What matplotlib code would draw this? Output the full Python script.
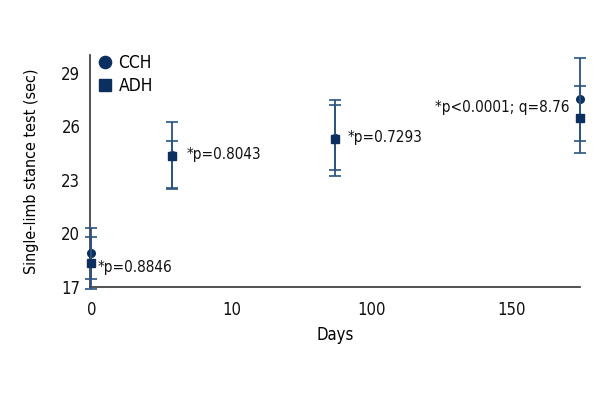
import matplotlib.pyplot as plt
import numpy as np

plt.rcParams['font.family'] = ['DejaVu Sans']
plt.rcParams['font.stretch'] = 'condensed'

# x positions on the (non-linear) day axis, tick positions and labels
x_pos = [0.0, 0.575, 1.74, 3.49]
tick_pos = [0, 1, 2, 3]
tick_labels = ['0', '10', '100', '150']

cch_mean = [18.92, 24.40, 25.35, 27.54]
cch_upper = [20.33, 26.27, 27.49, 29.81]
cch_lower = [17.45, 22.57, 23.22, 25.17]

adh_mean = [18.32, 24.36, 25.27, 26.46]
adh_upper = [19.78, 25.16, 27.20, 28.28]
adh_lower = [16.90, 22.47, 23.58, 24.52]

notes = ['*p=0.8846', '*p=0.8043', '*p=0.7293', '*p<0.0001; q=8.76']
note_x = [0.046, 0.68, 1.83, 2.45]
note_y = [18.12, 24.43, 25.38, 27.06]

mk_col = '#0b2f5e'
err_col = '#2b5480'

fig = plt.figure(figsize=(6, 4), dpi=100)
ax = fig.add_axes([0.15, 0.2825, 0.817, 0.58])

cch_err = [np.array(cch_mean) - np.array(cch_lower), np.array(cch_upper) - np.array(cch_mean)]
adh_err = [np.array(adh_mean) - np.array(adh_lower), np.array(adh_upper) - np.array(adh_mean)]

ax.errorbar(x_pos, cch_mean, yerr=cch_err, fmt='o', ms=5.5, color=mk_col, ecolor=err_col,
            elinewidth=1.3, capsize=4, capthick=1.2, clip_on=False, zorder=3, label='CCH')
ax.errorbar(x_pos, adh_mean, yerr=adh_err, fmt='s', ms=5.5, color=mk_col, ecolor=err_col,
            elinewidth=1.3, capsize=4, capthick=1.2, clip_on=False, zorder=4, label='ADH')

for t, xx, yy in zip(notes, note_x, note_y):
    ax.text(xx, yy, t, fontsize=11, va='center', ha='left', color='#111111')

ax.set_xlim(-0.01, 3.49)
ax.set_ylim(17, 30)
ax.set_yticks([17, 20, 23, 26, 29])
ax.set_xticks(tick_pos)
ax.set_xticklabels(tick_labels)
ax.tick_params(length=0, labelsize=12, colors='#111111')
ax.tick_params(axis='x', pad=10)
ax.tick_params(axis='y', pad=7)

for s in ['top', 'right']:
    ax.spines[s].set_visible(False)
for s in ['left', 'bottom']:
    ax.spines[s].set_color('#333333')
    ax.spines[s].set_linewidth(1.2)

ax.set_xlabel('Days', fontsize=12, labelpad=5)
ax.set_ylabel('Single-limb stance test (sec)', fontsize=11.5, labelpad=16)

handles, labels = ax.get_legend_handles_labels()
handles = [h[0] for h in handles]
ax.legend(handles, labels, loc='upper left', bbox_to_anchor=(0.012, 1.01), frameon=False,
          handlelength=0.8, handletextpad=0.4, labelspacing=0.25, markerscale=1.6,
          fontsize=12.5, borderaxespad=0, borderpad=0.1)

fig.savefig('out.png', dpi=100)
